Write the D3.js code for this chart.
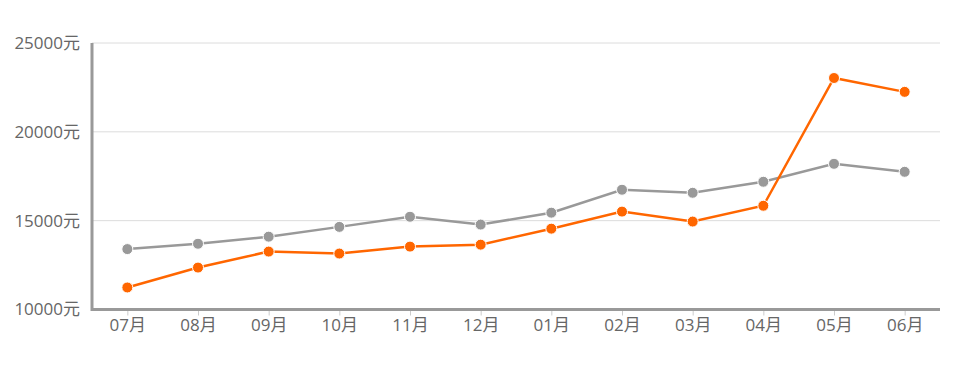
<!DOCTYPE html>
<html><head><meta charset="utf-8">
<script src="https://cdn.jsdelivr.net/npm/d3@7"></script>
<style>body{margin:0;background:#fff}svg{display:block}</style>
</head><body><svg id="c" width="967" height="369"></svg>
<script>
const months = ["07月","08月","09月","10月","11月","12月","01月","02月","03月","04月","05月","06月"];
const graySeries = [13400,13700,14100,14650,15220,14780,15450,16740,16570,17190,18200,17750];
const orangeSeries = [11240,12360,13260,13150,13540,13650,14550,15510,14950,15840,23030,22250];
const yTicks = [10000,15000,20000,25000];

const svg = d3.select("#c");
const L = 92, R = 940, T = 43, B = 309.5;
const x = d3.scalePoint().domain(months).range([L, R]).padding(0.5);
const y = d3.scaleLinear().domain([10000,25000]).range([B, T]);
const font = "'Open Sans','Noto Sans CJK SC',sans-serif";

// gridlines
svg.append("g").selectAll("line").data(yTicks.filter(d=>d>10000)).join("line")
  .attr("x1", L).attr("x2", R).attr("y1", d=>y(d)).attr("y2", d=>y(d))
  .attr("stroke", "#dcdcdc").attr("stroke-width", 1);

// y labels
svg.append("g").selectAll("text").data(yTicks).join("text")
  .attr("x", 80).attr("y", d=>y(d)).attr("dy", "0.35em")
  .attr("text-anchor", "end").attr("font-family", font).attr("font-size", 17)
  .attr("fill", "#666").text(d=>d+"元");

// x axis
const xa = svg.append("g").attr("transform", `translate(0,${B})`)
  .call(d3.axisBottom(x).tickSize(6).tickSizeOuter(0));
xa.select(".domain").remove();
xa.selectAll(".tick line").attr("stroke", "#ccc");
xa.selectAll(".tick text").attr("font-family", font).attr("font-size", 17).attr("fill", "#666").attr("y", 9).attr("dy", "0.72em");

// axes lines
svg.append("line").attr("x1", L).attr("x2", L).attr("y1", T).attr("y2", B+1.5).attr("stroke", "#999").attr("stroke-width", 3);
svg.append("line").attr("x1", L).attr("x2", R).attr("y1", B).attr("y2", B).attr("stroke", "#999").attr("stroke-width", 3);

function series(vals, color){
  const g = svg.append("g");
  g.append("path").datum(vals)
    .attr("d", d3.line().x((d,i)=>x(months[i])).y(d=>y(d)))
    .attr("fill","none").attr("stroke",color).attr("stroke-width",2.5);
  g.selectAll("circle").data(vals).join("circle")
    .attr("cx",(d,i)=>x(months[i])).attr("cy",d=>y(d)).attr("r",5.5)
    .attr("fill",color).attr("stroke","#fff").attr("stroke-width",1);
}
series(graySeries, "#999999");
series(orangeSeries, "#ff6600");
</script></body></html>
